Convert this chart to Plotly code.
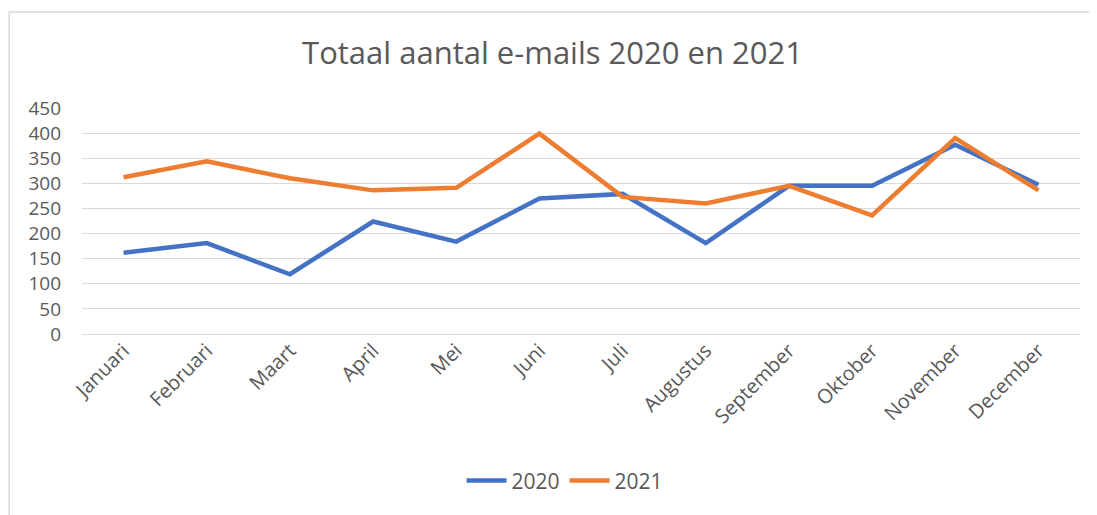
import plotly.graph_objects as go

MONTHS = ["Januari", "Februari", "Maart", "April", "Mei", "Juni",
          "Juli", "Augustus", "September", "Oktober", "November", "December"]
EMAILS_2020 = [162, 181, 119, 224, 184, 270, 279, 181, 295, 295, 377, 297]
EMAILS_2021 = [312, 344, 310, 286, 291, 399, 273, 260, 295, 236, 390, 286]

BLUE = "#4472C4"
ORANGE = "#ED7D31"
TEXT_COLOR = "#595959"
GRID_COLOR = "#D9D9D9"
FONT = "Open Sans, Lato, sans-serif"

fig = go.Figure()
fig.add_trace(go.Scatter(x=MONTHS, y=EMAILS_2020, name="2020", mode="lines",
                         line=dict(color=BLUE, width=4.5)))
fig.add_trace(go.Scatter(x=MONTHS, y=EMAILS_2021, name="2021", mode="lines",
                         line=dict(color=ORANGE, width=4.5)))

# page body adds an 8px margin, so the figure is sized to fit inside it
fig.update_layout(
    width=1089,
    height=507,
    margin=dict(l=74, r=17, t=100, b=181),
    plot_bgcolor="white",
    paper_bgcolor="white",
    font=dict(family=FONT, size=19, color=TEXT_COLOR),
    title=dict(text="Totaal aantal e-mails 2020 en 2021", x=0.5, xanchor="center",
               y=0.911, yanchor="middle", font=dict(size=31, color=TEXT_COLOR)),
    legend=dict(orientation="h", x=0.484, xanchor="center", y=-0.65, yanchor="middle",
                font=dict(size=21), itemwidth=40),
    showlegend=True,
    # light chart border like the Excel chart area
    shapes=[dict(type="rect", xref="paper", yref="paper",
                 x0=-0.073, x1=1.2, y0=-0.9, y1=1.425,
                 line=dict(color="#D9D9D9", width=1.5), layer="below")],
)
fig.update_xaxes(range=[-0.5, 11.5], tickangle=-45, showgrid=False, showline=False,
                 ticks="", tickfont=dict(size=20))
fig.update_yaxes(range=[0, 450], dtick=50, gridcolor=GRID_COLOR, gridwidth=1,
                 zeroline=True, zerolinecolor=GRID_COLOR, zerolinewidth=1,
                 showline=False, ticks="", tickfont=dict(size=19), ticklabelstandoff=20)

fig.write_html("out.html")
